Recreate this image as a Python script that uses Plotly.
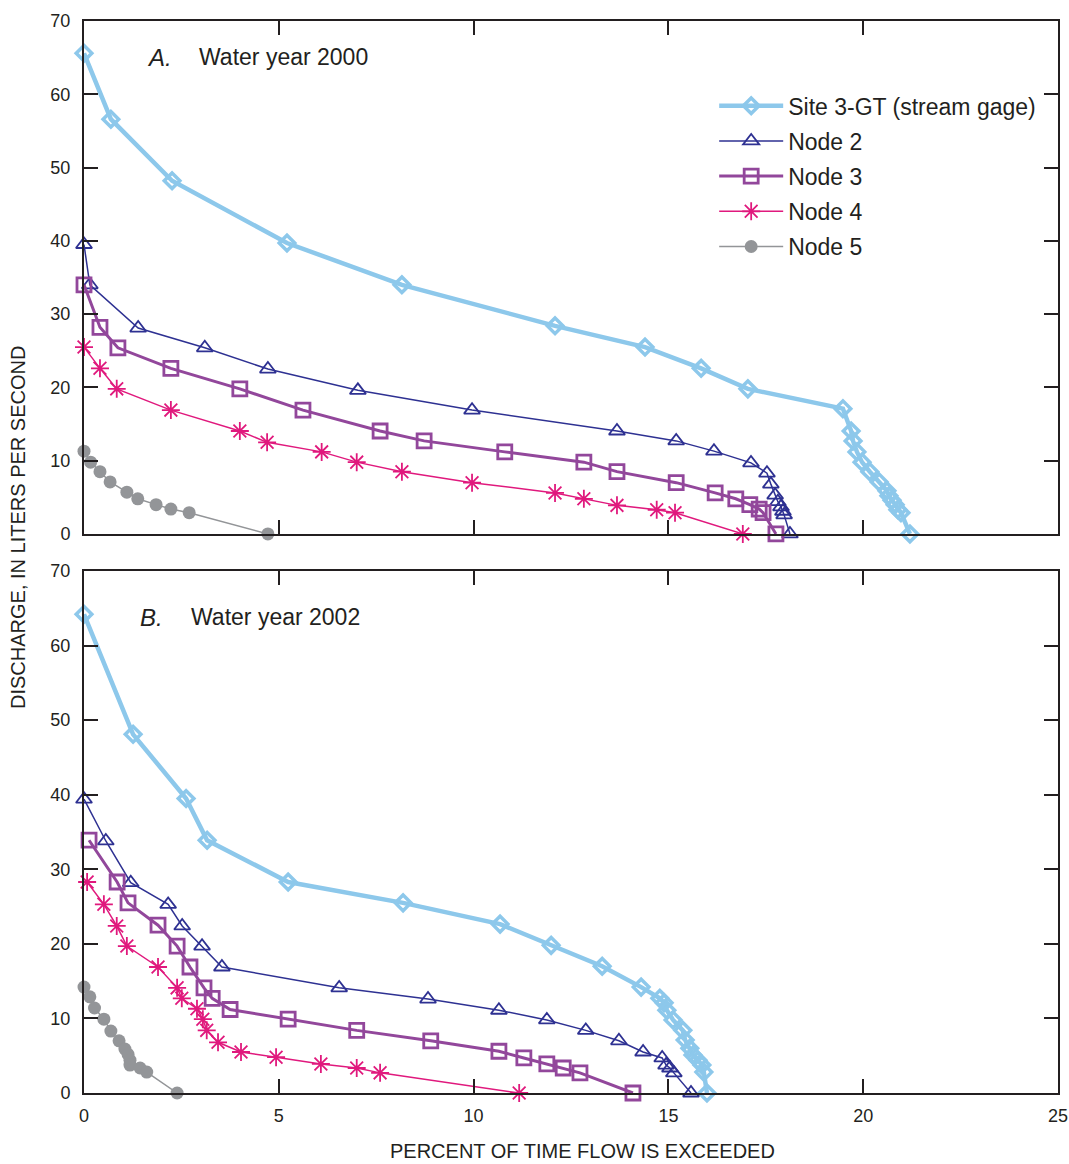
import plotly.graph_objects as go

# ---------------- Data: Water year 2000 (panel A) ----------------
a_site_x = [0, 0.69, 2.26, 5.21, 8.16, 12.09, 14.4, 15.84, 17.04, 19.48, 19.69, 19.74, 19.84, 19.97, 20.17, 20.41, 20.61, 20.66, 20.74, 20.82, 20.89, 20.97, 21.2]
a_site_y = [65.6, 56.6, 48.2, 39.7, 34.0, 28.4, 25.5, 22.6, 19.8, 17.1, 14.05, 12.7, 11.2, 9.8, 8.5, 7.1, 5.9, 5.2, 4.6, 4.0, 3.3, 2.9, 0]

a_n2_x = [0, 0.15, 1.39, 3.1, 4.72, 7.03, 9.96, 13.68, 15.2, 16.17, 17.12, 17.53, 17.63, 17.74, 17.81, 17.89, 17.94, 17.97, 18.12]
a_n2_y = [39.5, 34.0, 28.1, 25.4, 22.5, 19.6, 16.9, 14.05, 12.7, 11.3, 9.7, 8.3, 6.8, 5.3, 4.4, 3.7, 3.1, 2.6, 0]

a_n3_x = [0, 0.41, 0.87, 2.23, 4.0, 5.62, 7.6, 8.73, 10.8, 12.83, 13.68, 15.2, 16.2, 16.73, 17.09, 17.33, 17.43, 17.76]
a_n3_y = [34.0, 28.2, 25.4, 22.6, 19.8, 16.9, 14.05, 12.7, 11.2, 9.8, 8.5, 7.0, 5.6, 4.8, 4.0, 3.4, 2.9, 0]

a_n4_x = [0, 0.41, 0.84, 2.23, 4.0, 4.7, 6.1, 7.0, 8.16, 9.96, 12.09, 12.83, 13.68, 14.7, 15.17, 16.91]
a_n4_y = [25.5, 22.6, 19.8, 16.9, 14.05, 12.5, 11.2, 9.8, 8.5, 7.0, 5.6, 4.8, 3.9, 3.3, 2.9, 0]

a_n5_x = [0, 0.17, 0.41, 0.67, 1.1, 1.38, 1.85, 2.23, 2.7, 4.72]
a_n5_y = [11.3, 9.8, 8.5, 7.1, 5.7, 4.8, 4.0, 3.4, 2.9, 0]

# ---------------- Data: Water year 2002 (panel B) ----------------
b_site_x = [0, 1.26, 2.62, 3.16, 5.24, 8.19, 10.68, 11.99, 13.3, 14.3, 14.78, 14.89, 14.96, 15.12, 15.37, 15.43, 15.55, 15.63, 15.76, 15.86, 15.91, 15.99]
b_site_y = [64.2, 48.1, 39.5, 33.9, 28.3, 25.5, 22.65, 19.8, 17.0, 14.2, 12.7, 12.1, 11.1, 9.8, 8.4, 7.1, 6.0, 5.1, 4.4, 3.75, 2.8, 0]

b_n2_x = [0, 0.56, 1.2, 2.16, 2.52, 3.03, 3.54, 6.55, 8.83, 10.65, 11.88, 12.88, 13.73, 14.35, 14.84, 14.94, 15.04, 15.14, 15.58]
b_n2_y = [39.4, 33.8, 28.2, 25.3, 22.4, 19.7, 16.9, 14.1, 12.6, 11.1, 9.8, 8.4, 7.0, 5.5, 4.7, 3.75, 3.35, 2.7, 0]

b_n3_x = [0.13, 0.85, 1.13, 1.9, 2.39, 2.72, 3.08, 3.29, 3.75, 5.24, 7.0, 8.9, 10.65, 11.29, 11.88, 12.3, 12.73, 14.09]
b_n3_y = [33.9, 28.3, 25.5, 22.5, 19.7, 16.9, 14.1, 12.7, 11.2, 9.9, 8.4, 7.0, 5.6, 4.7, 3.9, 3.35, 2.7, 0]

b_n4_x = [0.08, 0.51, 0.84, 1.1, 1.9, 2.39, 2.51, 2.9, 3.05, 3.15, 3.44, 4.03, 4.93, 6.08, 7.0, 7.6, 11.17]
b_n4_y = [28.3, 25.3, 22.4, 19.7, 16.9, 14.1, 12.7, 11.3, 9.9, 8.4, 6.8, 5.5, 4.8, 3.9, 3.35, 2.7, 0]

b_n5_x = [0, 0.15, 0.27, 0.51, 0.69, 0.9, 1.05, 1.13, 1.18, 1.18, 1.44, 1.61, 2.39]
b_n5_y = [14.2, 12.9, 11.4, 9.9, 8.3, 7.0, 5.9, 5.2, 4.4, 3.75, 3.35, 2.8, 0]

series_names = ["Site 3-GT (stream gage)", "Node 2", "Node 3", "Node 4", "Node 5"]
x_ticks = [0, 5, 10, 15, 20, 25]
y_ticks = [0, 10, 20, 30, 40, 50, 60, 70]

# ---------------- Styles ----------------
styles = [
    dict(color="#8DC8EB", lw=4.5, symbol="diamond-open", size=12, mlw=3.5),
    dict(color="#2E3192", lw=1.5, symbol="triangle-up-open", size=14, mlw=1.8),
    dict(color="#92479B", lw=3, symbol="square-open", size=14, mlw=2.8),
    dict(color="#E0197D", lw=1.5, symbol="asterisk-open", size=15, mlw=1.8),
    dict(color="#939598", lw=1.5, symbol="circle", size=13, mlw=0),
]

panel_a = [(a_site_x, a_site_y), (a_n2_x, a_n2_y), (a_n3_x, a_n3_y), (a_n4_x, a_n4_y), (a_n5_x, a_n5_y)]
panel_b = [(b_site_x, b_site_y), (b_n2_x, b_n2_y), (b_n3_x, b_n3_y), (b_n4_x, b_n4_y), (b_n5_x, b_n5_y)]

fig = go.Figure()


def add_panel(data, xa, ya, show):
    for i, (name, (xs, ys), st) in enumerate(zip(series_names, data, styles)):
        fig.add_trace(go.Scatter(
            x=xs, y=ys, mode="lines+markers", name=name, legendgroup=f"g{i}",
            xaxis=xa, yaxis=ya, showlegend=show, cliponaxis=False,
            line=dict(color=st["color"], width=st["lw"]),
            marker=dict(symbol=st["symbol"], size=st["size"], color=st["color"],
                        line=dict(color=st["color"], width=st["mlw"])),
        ))


add_panel(panel_a, "x", "y", True)
add_panel(panel_b, "x2", "y2", False)

font_family = "Liberation Sans, Arial, sans-serif"
text_color = "#231F20"

axis_common = dict(
    showline=True, linecolor="#231F20", linewidth=2, mirror="ticks",
    ticks="inside", ticklen=14, tickwidth=1.5, tickcolor="#231F20",
    showgrid=False, zeroline=False, automargin=False,
    tickfont=dict(family=font_family, size=18, color=text_color),
)

fig.update_layout(
    width=1069, height=1164,
    margin=dict(l=84, r=11, t=21, b=71),
    paper_bgcolor="white", plot_bgcolor="white",
    font=dict(family=font_family, color=text_color),
    xaxis=dict(axis_common, range=[0, 25], tickvals=x_ticks, showticklabels=False,
               anchor="y", domain=[0, 1]),
    yaxis=dict(axis_common, range=[0, 70], tickvals=y_ticks, domain=[0.5215, 1.0],
               anchor="x", ticklabelstandoff=8),
    xaxis2=dict(axis_common, range=[0, 25], tickvals=x_ticks, anchor="y2",
                domain=[0, 1], ticklabelstandoff=5),
    yaxis2=dict(axis_common, range=[0, 70], tickvals=y_ticks, domain=[0, 0.4869],
                anchor="x2", ticklabelstandoff=8),
    legend=dict(x=0.647, y=0.941, xanchor="left", yanchor="top",
                font=dict(family=font_family, size=23, color=text_color),
                bgcolor="rgba(0,0,0,0)", itemwidth=64, tracegroupgap=2.3,
                groupclick="toggleitem"),
    showlegend=True,
)

fig.update_layout(annotations=[
    dict(text="<i>A.</i>", xref="paper", yref="paper", x=(145 - 84) / 974, y=(1093 - 57) / 1072,
         xanchor="left", yanchor="middle", showarrow=False,
         font=dict(family=font_family, size=24, color=text_color)),
    dict(text="Water year 2000", xref="paper", yref="paper", x=(197 - 84) / 974, y=(1093 - 57) / 1072,
         xanchor="left", yanchor="middle", showarrow=False,
         font=dict(family=font_family, size=23, color=text_color)),
    dict(text="<i>B.</i>", xref="paper", yref="paper", x=(138 - 84) / 974, y=(1093 - 617) / 1072,
         xanchor="left", yanchor="middle", showarrow=False,
         font=dict(family=font_family, size=24, color=text_color)),
    dict(text="Water year 2002", xref="paper", yref="paper", x=(189 - 84) / 974, y=(1093 - 617) / 1072,
         xanchor="left", yanchor="middle", showarrow=False,
         font=dict(family=font_family, size=23, color=text_color)),
    dict(text="DISCHARGE, IN LITERS PER SECOND", xref="paper", yref="paper",
         x=(18 - 84) / 974, y=(1093 - 528) / 1072, textangle=-90,
         xanchor="center", yanchor="middle", showarrow=False,
         font=dict(family=font_family, size=20, color=text_color)),
    dict(text="PERCENT OF TIME FLOW IS EXCEEDED", xref="paper", yref="paper",
         x=(582 - 84) / 974, y=(1093 - 1151) / 1072,
         xanchor="center", yanchor="middle", showarrow=False,
         font=dict(family=font_family, size=20, color=text_color)),
])

fig.write_html("out.html")
